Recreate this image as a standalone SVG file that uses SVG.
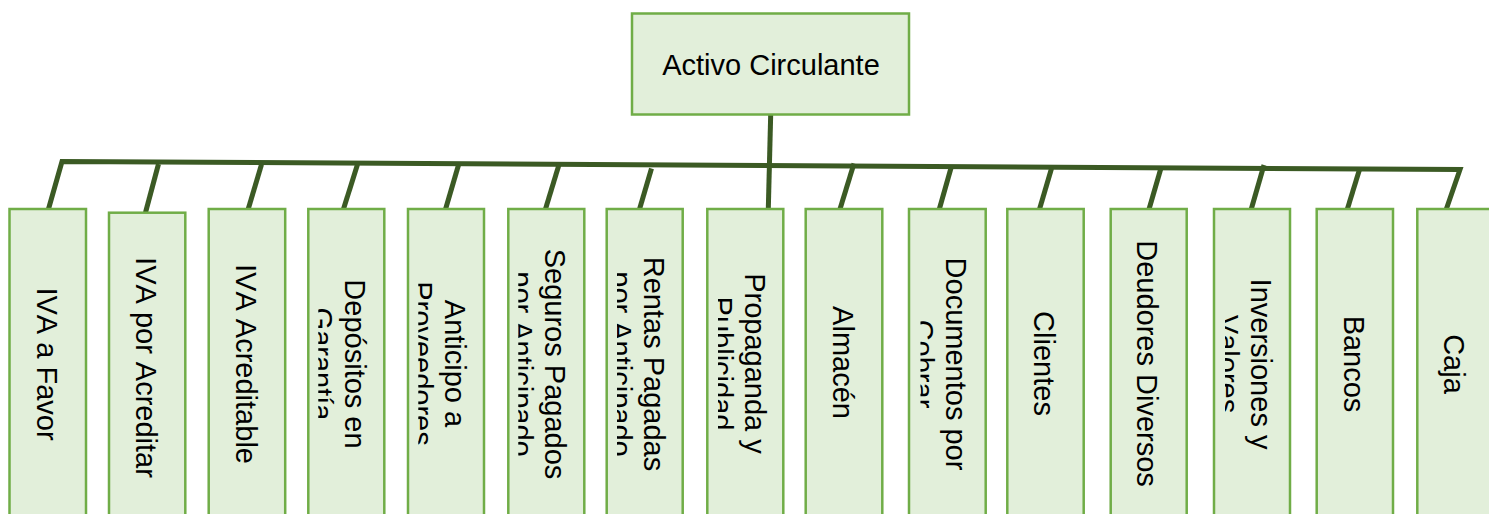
<svg xmlns="http://www.w3.org/2000/svg" width="1489" height="514" viewBox="0 0 1489 514">
  <style>
    .box { fill: #e2efda; stroke: #70ad47; stroke-width: 2.5; }
    .lbl { font-family: "Liberation Sans", Arial, sans-serif; font-size: 29px; fill: #000; text-anchor: middle; font-kerning: none; }
    .wire { fill: none; stroke: #3b5a24; stroke-width: 5; stroke-linejoin: miter; stroke-linecap: butt; }
  </style>
  <defs>
    <!-- text areas of the two-line boxes: overflow is cut at the inner margin -->
    <clipPath id="c4"><rect x="318.3" y="209" width="56" height="320"/></clipPath>
    <clipPath id="c5"><rect x="418.3" y="209" width="56" height="320"/></clipPath>
    <clipPath id="c6"><rect x="518.3" y="209" width="56" height="320"/></clipPath>
    <clipPath id="c7"><rect x="617" y="209" width="56" height="320"/></clipPath>
    <clipPath id="c8"><rect x="718" y="209" width="56" height="320"/></clipPath>
    <clipPath id="c10"><rect x="920.5" y="209" width="56" height="320"/></clipPath>
    <clipPath id="c13"><rect x="1225" y="209" width="56" height="320"/></clipPath>
  </defs>

  <!-- connectors -->
  <g id="connectors" class="wire">
    <polyline points="48.5,209 62,161.5 1460,169.5 1446,210"/>
    <line x1="770.7" y1="114" x2="768.3" y2="209"/>
    <line x1="158.5" y1="164" x2="145.5" y2="212.5"/>
    <line x1="261.5" y1="164.5" x2="247.5" y2="211.5"/>
    <line x1="357.5" y1="164.5" x2="343.5" y2="209"/>
    <line x1="458.5" y1="165" x2="445" y2="211"/>
    <line x1="559.5" y1="163" x2="545.5" y2="209"/>
    <line x1="651.5" y1="168.5" x2="637.5" y2="216"/>
    <line x1="854" y1="163.5" x2="840" y2="209"/>
    <line x1="951" y1="168" x2="938.5" y2="212"/>
    <line x1="1051.5" y1="168.5" x2="1037.5" y2="216"/>
    <line x1="1161" y1="168" x2="1148.5" y2="211"/>
    <line x1="1264" y1="165" x2="1251" y2="210"/>
    <line x1="1359.5" y1="169.5" x2="1346" y2="213.5"/>
  </g>

  <!-- root -->
  <g id="activo-circulante">
    <rect class="box" x="632" y="13.5" width="277" height="101"/>
    <text class="lbl" x="771" y="75">Activo Circulante</text>
  </g>

  <!-- accounts -->
  <g id="iva-a-favor">
    <rect class="box" x="9.5" y="209" width="76.5" height="320"/>
    <text class="lbl" transform="translate(36.5,364) rotate(90)">IVA a Favor</text>
  </g>
  <g id="iva-por-acreditar">
    <rect class="box" x="109" y="212.7" width="76.3" height="320"/>
    <text class="lbl" transform="translate(135.5,367.5) rotate(90)">IVA por Acreditar</text>
  </g>
  <g id="iva-acreditable">
    <rect class="box" x="208.7" y="209" width="76.5" height="320"/>
    <text class="lbl" transform="translate(235.5,364) rotate(90)">IVA Acreditable</text>
  </g>
  <g id="depositos-en-garantia">
    <rect class="box" x="308.3" y="209" width="76" height="320"/>
    <g clip-path="url(#c4)">
      <text class="lbl" transform="translate(345,364) rotate(90)"><tspan x="0" y="0">Depósitos en</tspan><tspan x="0" dy="33">Garantía</tspan></text>
    </g>
  </g>
  <g id="anticipo-a-proveedores">
    <rect class="box" x="408" y="209" width="76" height="320"/>
    <g clip-path="url(#c5)">
      <text class="lbl" transform="translate(445,363.5) rotate(90)"><tspan x="0" y="0">Anticipo a</tspan><tspan x="0" dy="33">Proveedores</tspan></text>
    </g>
  </g>
  <g id="seguros-pagados">
    <rect class="box" x="508.3" y="209" width="76" height="320"/>
    <g clip-path="url(#c6)">
      <text class="lbl" transform="translate(545,364) rotate(90)"><tspan x="0" y="0">Seguros Pagados</tspan><tspan x="0" dy="33">por Anticipado</tspan></text>
    </g>
  </g>
  <g id="rentas-pagadas">
    <rect class="box" x="606.7" y="209" width="76" height="320"/>
    <g clip-path="url(#c7)">
      <text class="lbl" transform="translate(643.5,364) rotate(90)"><tspan x="0" y="0">Rentas Pagadas</tspan><tspan x="0" dy="33">por Anticipado</tspan></text>
    </g>
  </g>
  <g id="propaganda-y-publicidad">
    <rect class="box" x="707.3" y="209" width="76" height="320"/>
    <g clip-path="url(#c8)">
      <text class="lbl" transform="translate(745,363.5) rotate(90)"><tspan x="0" y="0">Propaganda y</tspan><tspan x="0" dy="33">Publicidad</tspan></text>
    </g>
  </g>
  <g id="almacen">
    <rect class="box" x="805.7" y="209" width="76.6" height="320"/>
    <text class="lbl" transform="translate(833,362.5) rotate(90)">Almacén</text>
  </g>
  <g id="documentos-por-cobrar">
    <rect class="box" x="909" y="209" width="76.7" height="320"/>
    <g clip-path="url(#c10)">
      <text class="lbl" transform="translate(945.5,364) rotate(90)"><tspan x="0" y="0">Documentos por</tspan><tspan x="0" dy="33">Cobrar</tspan></text>
    </g>
  </g>
  <g id="clientes">
    <rect class="box" x="1007.3" y="209" width="76.4" height="320"/>
    <text class="lbl" transform="translate(1034,363.5) rotate(90)">Clientes</text>
  </g>
  <g id="deudores-diversos">
    <rect class="box" x="1110.7" y="209" width="76" height="320"/>
    <text class="lbl" transform="translate(1137,363.5) rotate(90)">Deudores Diversos</text>
  </g>
  <g id="inversiones-y-valores">
    <rect class="box" x="1214" y="209" width="76" height="320"/>
    <g clip-path="url(#c13)">
      <text class="lbl" transform="translate(1250.5,364) rotate(90)"><tspan x="0" y="0">Inversiones y</tspan><tspan x="0" dy="33">Valores</tspan></text>
    </g>
  </g>
  <g id="bancos">
    <rect class="box" x="1316.7" y="209" width="76.3" height="320"/>
    <text class="lbl" transform="translate(1343.5,364) rotate(90)">Bancos</text>
  </g>
  <g id="caja">
    <rect class="box" x="1417.3" y="209" width="76" height="320"/>
    <text class="lbl" transform="translate(1443.5,364) rotate(90)">Caja</text>
  </g>
</svg>
